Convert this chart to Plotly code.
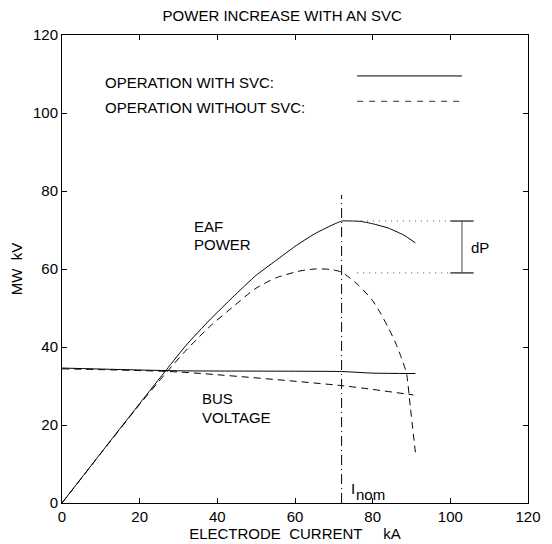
import plotly.graph_objects as go

# EAF power with SVC (solid)
eaf_svc_x = [0, 10, 20, 27, 32, 38, 44, 50, 55, 60, 65, 69, 72, 75, 77, 80, 84, 88, 91]
eaf_svc_y = [0, 12.8, 25.5, 34.3, 40.5, 46.9, 52.8, 58.4, 62.1, 65.8, 69, 71, 72.3, 72.3, 72.2, 71.6, 70.5, 68.7, 66.7]

# EAF power without SVC (dashed)
eaf_nosvc_x = [0, 10, 20, 27, 32, 38, 44.6, 49.7, 55, 61.3, 65.2, 69, 72, 76.3, 79.9, 82, 84, 85.8, 87.4, 88.7, 89.7, 91]
eaf_nosvc_y = [0, 12.7, 25.3, 33.6, 39.2, 45.2, 50.8, 54.9, 57.7, 59.5, 60, 59.9, 59.2, 55.9, 52, 48.7, 45, 41.3, 37.2, 33.3, 24.6, 13]

# Bus voltage with SVC (solid)
bus_svc_x = [0, 30, 72, 80, 91]
bus_svc_y = [34.6, 33.9, 33.7, 33.3, 33.2]

# Bus voltage without SVC (dashed)
bus_nosvc_x = [0, 30, 72, 90.5]
bus_nosvc_y = [34.4, 33.6, 30.1, 27.7]

# Nominal current marker
i_nom = 72
i_nom_top = 79

# Power peaks (dP)
p_svc = 72.3
p_nosvc = 59

x_ticks = [0, 20, 40, 60, 80, 100, 120]
y_ticks = [0, 20, 40, 60, 80, 100, 120]

FONT = "Liberation Sans, Arial, sans-serif"
BLACK = "#000000"
FS = 15

fig = go.Figure()

def line(x, y, dash="solid", width=1, color=BLACK, shape="linear", smoothing=0.6):
    fig.add_trace(go.Scatter(x=x, y=y, mode="lines",
                             line=dict(color=color, width=width, dash=dash,
                                       shape=shape, smoothing=smoothing if shape == "spline" else None),
                             showlegend=False, hoverinfo="skip"))

line(eaf_svc_x, eaf_svc_y, shape="spline", smoothing=0.4)
line(eaf_nosvc_x, eaf_nosvc_y, dash="7px,5px", shape="spline")
line(bus_svc_x, bus_svc_y, shape="spline")
line(bus_nosvc_x, bus_nosvc_y, dash="7px,5px", shape="spline")

# vertical nominal current line
line([i_nom, i_nom], [0, i_nom_top], dash="10px,4px,1px,4px")

# dotted guide lines
line([77, 100], [p_svc, p_svc], dash="1px,5px", color="#555555")
line([76, 100], [p_nosvc, p_nosvc], dash="1px,5px", color="#555555")

# dP bracket
line([103, 103], [p_nosvc, p_svc], color="#444444")
line([100, 106], [p_svc, p_svc], color="#444444", width=1.5)
line([100, 106], [p_nosvc, p_nosvc], color="#444444", width=1.5)

# legend samples
line([76, 103], [109.5, 109.5])
line([76, 103], [103, 103], dash="6px,6px", color="#333333")

annotations = [
    dict(x=10.5, y=107.7, text="OPERATION WITH SVC:", xanchor="left"),
    dict(x=10.5, y=101.3, text="OPERATION WITHOUT SVC:", xanchor="left"),
    dict(x=33.5, y=71, text="EAF", xanchor="left"),
    dict(x=33.5, y=66.4, text="POWER", xanchor="left"),
    dict(x=35.5, y=26.7, text="BUS", xanchor="left"),
    dict(x=35.5, y=21.8, text="VOLTAGE", xanchor="left"),
    dict(x=104.8, y=65.4, text="dP", xanchor="left"),
    dict(x=74.0, y=3.6, text="I", xanchor="left"),
    dict(x=75.3, y=2.1, text="nom", xanchor="left"),
]
for a in annotations:
    a.update(xref="x", yref="y", showarrow=False, yanchor="middle",
             font=dict(family=FONT, size=FS, color=BLACK))
fig.update_layout(annotations=annotations)

axis_common = dict(
    showgrid=False, zeroline=False, showline=True, linecolor=BLACK, linewidth=1,
    mirror="ticks", ticks="inside", ticklen=5, tickcolor=BLACK, automargin=False,
    tickfont=dict(family=FONT, size=FS, color=BLACK),
)

NB = "\u00a0"
fig.update_xaxes(range=[0, 120], tickvals=x_ticks, ticktext=[str(v) for v in x_ticks],
                 title=dict(text=f"ELECTRODE{NB}{NB}CURRENT{NB}{NB}{NB}{NB}{NB}kA", standoff=0,
                            font=dict(family=FONT, size=FS, color=BLACK)),
                 **axis_common)
fig.update_yaxes(range=[0, 120], tickvals=y_ticks, ticktext=[str(v) for v in y_ticks],
                 title=dict(text=f"MW{NB}{NB}kV", standoff=8,
                            font=dict(family=FONT, size=FS, color=BLACK)),
                 **axis_common)

fig.update_layout(
    width=544, height=536,
    margin=dict(l=54, r=24, t=27, b=41),
    paper_bgcolor="white", plot_bgcolor="white",
    title=dict(text="POWER INCREASE WITH AN SVC", x=0.504, xanchor="center",
               y=0.986, yanchor="middle",
               font=dict(family=FONT, size=FS, color=BLACK)),
)

fig.write_html("out.html")
